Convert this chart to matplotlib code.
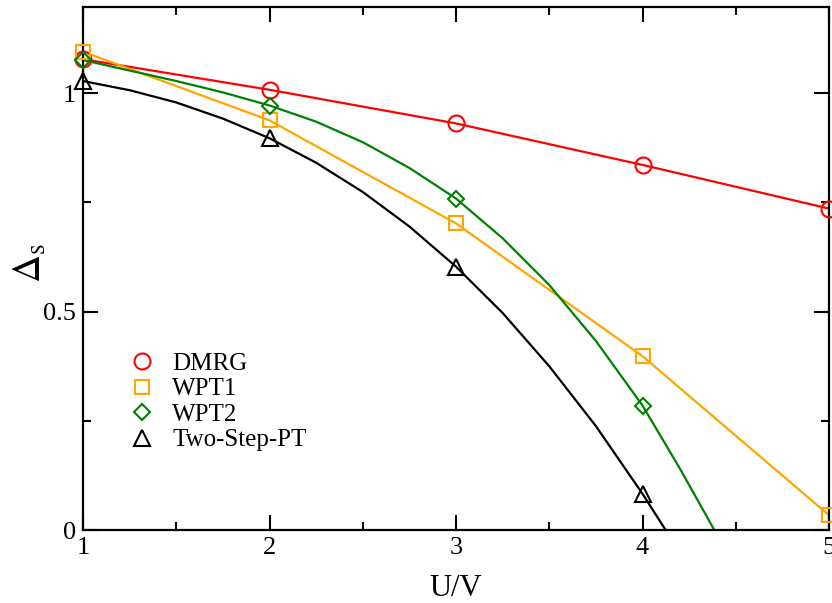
import numpy as np
import matplotlib
matplotlib.use("Agg")
import matplotlib.pyplot as plt
from matplotlib.ticker import MultipleLocator
from matplotlib.lines import Line2D

plt.rcParams['font.family'] = ['Liberation Serif', 'DejaVu Serif']
plt.rcParams['mathtext.fontset'] = 'stix'

# data points (markers)
u = [1, 2, 3, 4, 5]
dmrg = [1.078, 1.008, 0.931, 0.836, 0.736]
wpt1 = [1.095, 0.938, 0.702, 0.398, 0.034]
u4 = [1, 2, 3, 4]
wpt2 = [1.076, 0.972, 0.759, 0.285]
twostep = [1.028, 0.897, 0.603, 0.083]

# smooth curves
wpt2_cx = [1.0, 1.25, 1.5, 1.75, 2.0, 2.25, 2.5, 2.75, 3.0, 3.25, 3.5, 3.75,
           4.0, 4.1, 4.2, 4.3, 4.385]
wpt2_cy = [1.076, 1.052, 1.028, 1.002, 0.972, 0.935, 0.888, 0.829, 0.759, 0.668,
           0.561, 0.433, 0.285, 0.213, 0.141, 0.065, 0.0]
two_cx = [1.0, 1.25, 1.5, 1.75, 2.0, 2.25, 2.5, 2.75, 3.0, 3.25, 3.5, 3.75,
          4.0, 4.1, 4.124]
two_cy = [1.028, 1.007, 0.979, 0.942, 0.897, 0.841, 0.774, 0.695, 0.603, 0.497,
          0.375, 0.238, 0.083, 0.016, 0.0]

fig = plt.figure(figsize=(8.32, 6.03), dpi=100)
ax = fig.add_axes([0.0998, 0.121, 0.8966, 0.867])

lw = 1.6
ax.plot(u, dmrg, color='red', lw=lw)
ax.plot(u, wpt1, color='orange', lw=lw)
ax.plot(wpt2_cx, wpt2_cy, color='green', lw=lw)
ax.plot(two_cx, two_cy, color='black', lw=lw)

styles = [('o', 11.5, 'red'), ('s', 10, 'orange'), ('D', 8, 'green'), ('^', 11.5, 'black')]
series = [(u, dmrg), (u, wpt1), (u4, wpt2), (u4, twostep)]
for (m, ms, c), (xs, ys) in zip(styles, series):
    ax.plot(xs, ys, ls='none', marker=m, ms=ms, mfc='none', mec=c, mew=1.5,
            clip_on=False, zorder=5)

ax.set_xlim(1, 5)
ax.set_ylim(0, 1.197)
ax.xaxis.set_major_locator(MultipleLocator(1))
ax.xaxis.set_minor_locator(MultipleLocator(0.5))
ax.yaxis.set_minor_locator(MultipleLocator(0.25))
ax.set_yticks([0, 0.5, 1])
ax.set_yticklabels(['0', '0.5', '1'])
ax.tick_params(which='both', direction='in', top=True, right=True, width=1.5)
ax.tick_params(which='major', length=11, labelsize=19)
ax.tick_params(axis='x', which='major', pad=5)
ax.tick_params(axis='y', which='major', pad=5)
ax.tick_params(which='minor', length=5.5)
for s in ax.spines.values():
    s.set_linewidth(1.6)

ax.set_xlabel('U/V', fontsize=22)
ax.xaxis.set_label_coords(0.5, -0.085)
ax.set_ylabel(r'$\Delta_\mathrm{s}$', fontsize=28)
ax.yaxis.set_label_coords(-0.045, 0.51)

handles = [Line2D([], [], ls='none', marker=m, ms=ms, mfc='none', mec=c, mew=1.5)
           for m, ms, c in styles]
ax.legend(handles, ['DMRG', 'WPT1', 'WPT2', 'Two-Step-PT'], loc='upper left',
          bbox_to_anchor=(0.059, 0.34), frameon=False, fontsize=18,
          handletextpad=0.6, labelspacing=0.12, handlelength=1.2,
          borderaxespad=0, borderpad=0)

fig.savefig('out.png', dpi=100)
